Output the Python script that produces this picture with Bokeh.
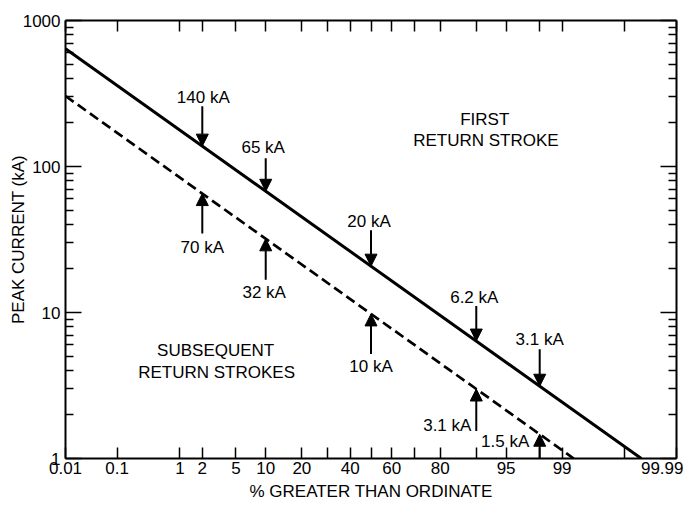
from statistics import NormalDist
import numpy as np
from bokeh.plotting import figure
from bokeh.models import (LinearAxis, LogAxis, FixedTicker, CustomJSTickFormatter,
                          Range1d, ColumnDataSource, Arrow, NormalHead)
from bokeh.core.properties import value
from bokeh.embed import file_html
from bokeh.resources import INLINE

# ---------------- data ----------------
x_tick_pct = [0.01, 0.1, 1, 2, 5, 10, 20, 30, 40, 50, 60, 70, 80, 90, 95, 98, 99, 99.9, 99.99]
x_tick_labels = ["0.01", "0.1", "1", "2", "5", "10", "20", "", "40", "", "60", "", "80", "",
                 "95", "", "99", "", "99.99"]
y_ticks = [1, 10, 100, 1000]
y_tick_labels = ["1", "10", "100", "1000"]

first_line_pct = [0.01, 99.95]
first_line_ka = [640, 1.0]
subseq_line_pct = [0.01, 99.32]
subseq_line_ka = [304, 1.0]

first_arrow_pct = [2, 10, 50, 90, 98]
first_arrow_ka = [140, 65, 20, 6.2, 3.1]
subseq_arrow_pct = [2, 10, 50, 90, 98]
subseq_arrow_ka = [70, 32, 10, 3.1, 1.5]

note_text = ["FIRST", "RETURN STROKE", "SUBSEQUENT", "RETURN STROKES"]
note_pct = [91.7, 91.9, 2.93, 3.01]
note_ka = [210, 150, 5.53, 3.91]

# ---------------- layout / style ----------------
FONT = "Liberation Sans"
FS = "17px"
FW, FH = 611, 438
PPD = FH / 3.0  # pixels per decade on the y axis

first_shaft = [40, 33, 36, 35, 37]
first_dx = [1, -2.5, -2, -2, 0]
first_dy = [-49, -44, -44.5, -44, -46.5]
subseq_shaft = [40, 41, 40, 42, 28]
subseq_dx = [0, -1.5, 0, -29, -34.5]
subseq_dy = [54, 54, 53, 36, 7.5]

nd = NormalDist()


def z(pct):
    return nd.inv_cdf(pct / 100.0)


def on_line(lp, lk, pct):
    zz = [z(v) for v in lp]
    return 10 ** np.interp(z(pct), zz, np.log10(lk))


p = figure(width=683, height=510,
           x_range=Range1d(z(0.01), z(99.99)), y_range=Range1d(1, 1000),
           y_axis_type="log", x_axis_location=None, y_axis_location=None,
           output_backend="svg", toolbar_location=None,
           min_border_left=65, min_border_right=7, min_border_top=20, min_border_bottom=52)
p.outline_line_color = None
p.background_fill_color = "white"
p.border_fill_color = "white"
for g in list(p.center):
    g.visible = False

x_tick_z = [z(v) for v in x_tick_pct]
fmt_x = CustomJSTickFormatter(args=dict(zs=x_tick_z, labs=x_tick_labels), code="""
let best = ''; let d = Infinity;
for (let i = 0; i < zs.length; i++) {
  const e = Math.abs(zs[i] - tick);
  if (e < d) { d = e; best = labs[i]; }
}
return best;
""")
fmt_y = CustomJSTickFormatter(args=dict(zs=y_ticks, labs=y_tick_labels), code="""
let best = ''; let d = Infinity;
for (let i = 0; i < zs.length; i++) {
  const e = Math.abs(Math.log10(zs[i]) - Math.log10(tick));
  if (e < d) { d = e; best = labs[i]; }
}
return best;
""")
fmt_none = CustomJSTickFormatter(code="return '';")

minor_y = [m * 10 ** e for e in range(0, 3) for m in range(2, 10)]


def style(ax, major_in, minor_in=0):
    ax.axis_line_width = 2
    ax.axis_line_color = "black"
    ax.major_tick_in = major_in
    ax.major_tick_out = 0
    ax.minor_tick_in = minor_in
    ax.minor_tick_out = 0
    ax.major_tick_line_width = 1.5
    ax.minor_tick_line_width = 1.5
    ax.major_tick_line_color = "black"
    ax.minor_tick_line_color = "black"
    ax.major_label_text_font = FONT
    ax.major_label_text_font_size = FS
    ax.major_label_text_color = "black"
    ax.axis_label_text_font = FONT
    ax.axis_label_text_font_size = FS
    ax.axis_label_text_font_style = "normal"
    ax.axis_label_text_color = "black"


bottom = LinearAxis(ticker=FixedTicker(ticks=x_tick_z), formatter=fmt_x,
                    axis_label="% GREATER THAN ORDINATE")
style(bottom, 11)
bottom.major_label_standoff = 3
bottom.axis_label_standoff = 5
p.add_layout(bottom, "below")

top = LinearAxis(ticker=FixedTicker(ticks=x_tick_z), formatter=fmt_none)
style(top, 11)
top.major_label_text_font_size = "0px"
top.major_label_standoff = 0
p.add_layout(top, "above")

left = LogAxis(ticker=FixedTicker(ticks=y_ticks, minor_ticks=minor_y), formatter=fmt_y,
               axis_label="PEAK CURRENT (kA)")
style(left, 16, 8)
left.major_label_standoff = 5
left.axis_label_standoff = -8
p.add_layout(left, "left")

right = LogAxis(ticker=FixedTicker(ticks=y_ticks, minor_ticks=minor_y), formatter=fmt_none)
style(right, 16, 8)
right.major_label_text_font_size = "0px"
right.major_label_standoff = 0
p.add_layout(right, "right")

# distribution lines
p.line([z(v) for v in first_line_pct], first_line_ka, line_width=3, line_color="black")
p.line([z(v) for v in subseq_line_pct], subseq_line_ka, line_width=2.7, line_color="black",
       line_dash="10 5")

# arrows
f_x = [z(v) for v in first_arrow_pct]
f_tip = [on_line(first_line_pct, first_line_ka, v) for v in first_arrow_pct]
f_start = [t * 10 ** (s / PPD) for t, s in zip(f_tip, first_shaft)]
s_x = [z(v) for v in subseq_arrow_pct]
s_tip = [on_line(subseq_line_pct, subseq_line_ka, v) for v in subseq_arrow_pct]
s_start = [t / 10 ** (s / PPD) for t, s in zip(s_tip, subseq_shaft)]

arrow_src = ColumnDataSource(dict(xs=f_x + s_x, ys=f_start + s_start, xe=f_x + s_x, ye=f_tip + s_tip))
p.add_layout(Arrow(x_start="xs", y_start="ys", x_end="xe", y_end="ye", source=arrow_src,
                   line_width=2, line_color="black",
                   end=NormalHead(size=12, fill_color="black", line_color="black", line_width=1)))

lab_src = ColumnDataSource(dict(
    x=f_x + s_x, y=f_tip + s_tip,
    text=[f"{v:g} kA" for v in first_arrow_ka] + [f"{v:g} kA" for v in subseq_arrow_ka],
    dx=first_dx + subseq_dx, dy=first_dy + subseq_dy))
p.text(x="x", y="y", text="text", x_offset="dx", y_offset="dy", source=lab_src,
       text_align="center", text_baseline="middle", text_font=value(FONT),
       text_font_size=value(FS), text_color="black")

p.text(x=[z(v) for v in note_pct], y=note_ka, text=note_text,
       text_align="center", text_baseline="middle", text_font=value(FONT),
       text_font_size=value(FS), text_color="black")

open("out.html", "w").write(file_html(p, INLINE))
